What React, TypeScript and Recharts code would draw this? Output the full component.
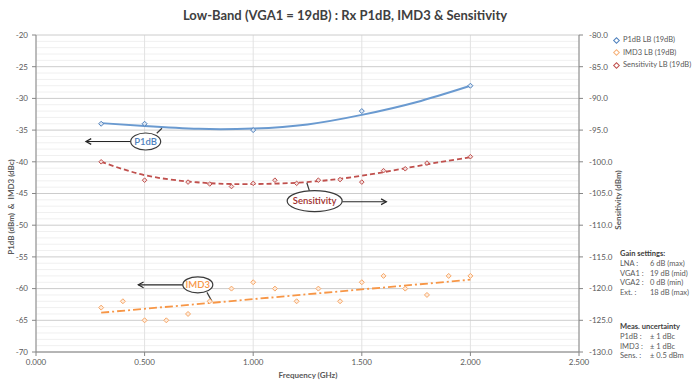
import React from 'react';
import {
  ComposedChart, Line, XAxis, YAxis, CartesianGrid, ReferenceLine, ReferenceDot,
} from 'recharts';

const p1dbFreq = [0.3, 0.5, 1.0, 1.5, 2.0];
const p1dbValues = [-34, -34, -35, -32, -28];

const imd3Freq = [0.3, 0.4, 0.5, 0.6, 0.7, 0.8, 0.9, 1.0, 1.1, 1.2, 1.3, 1.4, 1.5, 1.6, 1.7, 1.8, 1.9, 2.0];
const imd3Values = [-63, -62, -65, -65, -64, -62, -60, -59, -60, -62, -60, -62, -59, -58, -60, -61, -58, -58];

const sensFreq = [0.3, 0.5, 0.7, 0.8, 0.9, 1.0, 1.1, 1.2, 1.3, 1.4, 1.5, 1.6, 1.7, 1.8, 2.0];
const sensValues = [-100.0, -102.9, -103.2, -103.5, -103.9, -103.4, -102.9, -103.4, -102.9, -102.8, -103.2, -101.4, -101.1, -100.2, -99.2];

// trendlines as drawn in the reference
const p1dbTrendFreq = [0.3, 0.5, 0.75, 1.0, 1.25, 1.5, 1.75, 2.0];
const p1dbTrendValues = [-33.9, -34.35, -34.8, -34.75, -34.1, -32.6, -30.6, -28.0];

const sensTrendFreq = [0.3, 0.5, 0.7, 0.9, 1.2, 1.5, 1.8, 2.0];
const sensTrendValues = [-100.0, -102.1, -103.1, -103.5, -103.3, -102.2, -100.4, -99.3];

const imd3TrendFreq = [0.3, 2.0];
const imd3TrendValues = [-63.8, -58.6];

// axes
const freqTicks = [0, 0.5, 1.0, 1.5, 2.0, 2.5];
const leftTicks = [-70, -65, -60, -55, -50, -45, -40, -35, -30, -25, -20];
const rightTicks = [-130, -125, -120, -115, -110, -105, -100, -95, -90, -85, -80];
const minorLines = Array.from({ length: 51 }, (_, i) => -70 + i).filter(v => v % 5 !== 0);

// callouts (left-axis units)
const callouts = [
  { name: 'P1dB', color: '#4F81BD', x: 0.505, y: -36.8, rx: 15, ry: 8.5,
    arrowFrom: [0.436, -36.8], arrowTo: [0.23, -36.8], link: [[0.556, -35.5], [0.58, -34.7]] },
  { name: 'Sensitivity', color: '#A0302D', x: 1.283, y: -46.2, rx: 27.5, ry: 10.5,
    arrowFrom: [1.41, -46.3], arrowTo: [1.613, -46.3], link: [[1.259, -44.6], [1.247, -43.3]] },
  { name: 'IMD3', color: '#F79646', x: 0.745, y: -59.4, rx: 15, ry: 8,
    arrowFrom: [0.676, -59.4], arrowTo: [0.471, -59.4], link: [[0.787, -60.6], [0.81, -62.0]] },
];

const legendItems = [
  { label: 'P1dB LB (19dB)', color: '#4F81BD' },
  { label: 'IMD3 LB (19dB)', color: '#F7B27A' },
  { label: 'Sensitivity LB (19dB)', color: '#C0504D' },
];

const gainRows = [
  ['LNA :', '6 dB (max)'],
  ['VGA1 :', '19 dB (mid)'],
  ['VGA2 :', '0 dB (min)'],
  ['Ext. :', '18 dB (max)'],
];
const uncRows = [
  ['P1dB :', '± 1 dBc'],
  ['IMD3 :', '± 1 dBc'],
  ['Sens. :', '± 0.5 dBm'],
];

const zip = (xs: number[], ys: number[]) => xs.map((x, i) => ({ x, y: ys[i] }));

const FONT = 'Lato, "Open Sans", sans-serif';
const TXT = '#595959';
const AXIS = '#868686';

function diamond(color: string, fill: string, r: number) {
  return (p: any) => {
    if (p.cx == null || p.cy == null) return <g key={p.index} />;
    const { cx, cy } = p;
    return (
      <path key={p.index} d={`M${cx},${cy - r}L${cx + r},${cy}L${cx},${cy + r}L${cx - r},${cy}Z`}
        fill={fill} stroke={color} strokeWidth={1} />
    );
  };
}

const ArrowShape = (p: any) => {
  const { x1, y1, x2, y2 } = p;
  const a = Math.atan2(y2 - y1, x2 - x1);
  const h = 6;
  const ax = x2 - h * Math.cos(a - 0.5), ay = y2 - h * Math.sin(a - 0.5);
  const bx = x2 - h * Math.cos(a + 0.5), by = y2 - h * Math.sin(a + 0.5);
  return (
    <g>
      <line x1={x1} y1={y1} x2={x2} y2={y2} stroke="#262626" strokeWidth={1.2} />
      <path d={`M${ax},${ay}L${x2},${y2}L${bx},${by}`} fill="none" stroke="#262626" strokeWidth={1.2} />
    </g>
  );
};

const calloutShape = (c: typeof callouts[number]) => (p: any) => (
  <g>
    <ellipse cx={p.cx} cy={p.cy} rx={c.rx} ry={c.ry} fill="#fff" stroke="#3a3a3a" strokeWidth={1.2} />
    <text x={p.cx} y={p.cy} dy="0.35em" textAnchor="middle" fontSize={9.5} fontWeight={600}
      fontFamily={FONT} fill={c.color}>{c.name}</text>
  </g>
);

const tickStyle = { fontSize: 8, fill: TXT, fontFamily: FONT };

export default function App() {
  const p1db = zip(p1dbFreq, p1dbValues);
  const imd3 = zip(imd3Freq, imd3Values);
  const sens = zip(sensFreq, sensValues);
  const p1dbTrend = zip(p1dbTrendFreq, p1dbTrendValues);
  const sensTrend = zip(sensTrendFreq, sensTrendValues);
  const imd3Trend = zip(imd3TrendFreq, imd3TrendValues);

  return (
    <div style={{ position: 'absolute', left: 0, top: 0, width: 694, height: 380, background: '#fff', fontFamily: FONT }}>
      <ComposedChart width={694} height={380} margin={{ top: 35, right: 75, bottom: 0, left: 0 }}>
        <CartesianGrid yAxisId="left" vertical={false} horizontalValues={minorLines} stroke="#F0F0F0" strokeWidth={1} />
        <CartesianGrid yAxisId="left" horizontal={false} verticalValues={freqTicks} stroke="#E2E2E2" strokeWidth={1} />
        <CartesianGrid yAxisId="left" vertical={false} horizontalValues={leftTicks} stroke="#CCCCCC" strokeWidth={1} />
        <XAxis dataKey="x" type="number" domain={[0, 2.5]} ticks={freqTicks} interval={0}
          tickFormatter={(v: number) => v.toFixed(3)} tick={tickStyle} height={28}
          tickSize={4} tickMargin={3} stroke={AXIS} allowDataOverflow />
        <YAxis yAxisId="left" type="number" domain={[-70, -20]} ticks={leftTicks} interval={0}
          tick={tickStyle} width={36} tickSize={4} tickMargin={4} stroke={AXIS} allowDataOverflow />
        <YAxis yAxisId="right" orientation="right" type="number" domain={[-130, -80]} ticks={rightTicks} interval={0}
          tickFormatter={(v: number) => v.toFixed(1)} tick={tickStyle} width={40} tickSize={4} tickMargin={6}
          stroke={AXIS} allowDataOverflow />

        {/* trendlines */}
        <Line yAxisId="left" data={p1dbTrend} dataKey="y" type="natural" stroke="#6A9AD0" strokeWidth={2}
          dot={false} isAnimationActive={false} />
        <Line yAxisId="right" data={sensTrend} dataKey="y" type="natural" stroke="#C0504D" strokeWidth={1.8}
          strokeDasharray="5 3" dot={false} isAnimationActive={false} />
        <Line yAxisId="left" data={imd3Trend} dataKey="y" type="linear" stroke="#F79646" strokeWidth={1.8}
          strokeDasharray="8 3 2 3" dot={false} isAnimationActive={false} />

        {/* measured points */}
        <Line yAxisId="left" data={p1db} dataKey="y" stroke="none" isAnimationActive={false}
          dot={diamond('#4F81BD', '#DCE6F2', 2.5)} activeDot={false} />
        <Line yAxisId="right" data={sens} dataKey="y" stroke="none" isAnimationActive={false}
          dot={diamond('#C0504D', '#F2DCDB', 2.3)} activeDot={false} />
        <Line yAxisId="left" data={imd3} dataKey="y" stroke="none" isAnimationActive={false}
          dot={diamond('#F7A868', '#FDE9D9', 2.5)} activeDot={false} />

        {/* callouts */}
        {callouts.map(c => (
          <ReferenceLine key={c.name + 'l'} yAxisId="left" stroke="#3a3a3a" strokeWidth={1.2}
            segment={[{ x: c.link[0][0], y: c.link[0][1] }, { x: c.link[1][0], y: c.link[1][1] }]} />
        ))}
        {callouts.map(c => (
          <ReferenceLine key={c.name + 'a'} yAxisId="left" shape={ArrowShape}
            segment={[{ x: c.arrowFrom[0], y: c.arrowFrom[1] }, { x: c.arrowTo[0], y: c.arrowTo[1] }]} />
        ))}
        {callouts.map(c => (
          <ReferenceDot key={c.name} yAxisId="left" x={c.x} y={c.y} shape={calloutShape(c)} />
        ))}
      </ComposedChart>

      <div style={{ position: 'absolute', left: 345, top: 15, transform: 'translate(-50%,-50%)', whiteSpace: 'nowrap',
        fontSize: 13, fontWeight: 700, color: '#404040' }}>
        Low-Band (VGA1 = 19dB) : Rx P1dB, IMD3 &amp; Sensitivity
      </div>
      <div style={{ position: 'absolute', left: 308, top: 375, transform: 'translate(-50%,-50%)', whiteSpace: 'nowrap',
        fontSize: 8, fontWeight: 700, color: TXT }}>Frequency (GHz)</div>
      <div style={{ position: 'absolute', left: 11, top: 207, transform: 'translate(-50%,-50%) rotate(-90deg)',
        whiteSpace: 'nowrap', fontSize: 8, fontWeight: 700, color: TXT }}>P1dB (dBm)&nbsp; &amp;&nbsp; IMD3 (dBc)</div>
      <div style={{ position: 'absolute', left: 618, top: 200, transform: 'translate(-50%,-50%) rotate(-90deg)',
        whiteSpace: 'nowrap', fontSize: 8, fontWeight: 700, color: TXT }}>Sensitivity (dBm)</div>

      {/* legend */}
      <div style={{ position: 'absolute', left: 614, top: 34, fontSize: 7.5, color: TXT, lineHeight: '12.5px' }}>
        {legendItems.map(l => (
          <div key={l.label} style={{ display: 'flex', alignItems: 'center', whiteSpace: 'nowrap' }}>
            <span style={{ width: 3, height: 3, border: `1px solid ${l.color}`, transform: 'rotate(45deg)',
              marginRight: 4, display: 'inline-block' }} />
            {l.label}
          </div>
        ))}
      </div>

      {/* notes */}
      <div style={{ position: 'absolute', left: 620, top: 249, fontSize: 7.5, color: TXT, lineHeight: '9.8px', whiteSpace: 'nowrap' }}>
        <div style={{ fontWeight: 700, color: '#404040' }}>Gain settings:</div>
        {gainRows.map(r => (
          <div key={r[0]} style={{ display: 'flex' }}><span style={{ width: 30 }}>{r[0]}</span><span>{r[1]}</span></div>
        ))}
        <div style={{ height: 24 }} />
        <div style={{ fontWeight: 700, color: '#404040' }}>Meas. uncertainty</div>
        {uncRows.map(r => (
          <div key={r[0]} style={{ display: 'flex' }}><span style={{ width: 30 }}>{r[0]}</span><span>{r[1]}</span></div>
        ))}
      </div>
    </div>
  );
}
